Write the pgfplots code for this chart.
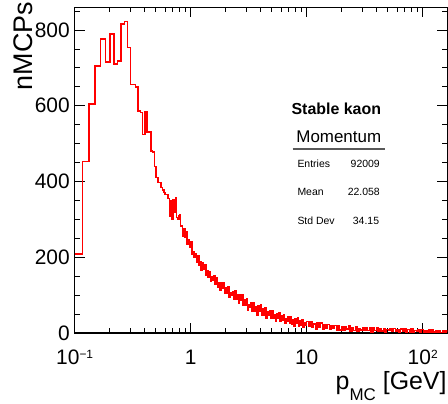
\documentclass[border=0pt]{standalone}
\usepackage{pgfplots}
\pgfplotsset{compat=1.18}
\usepackage{pgfplotstable}
\usepackage{fontspec}
\setmainfont{Liberation Sans}
\definecolor{histred}{RGB}{255,0,0}
\newcommand{\tsup}[1]{\raisebox{6bp}{\fontsize{12}{12}\selectfont #1}}

% low-momentum bins (bin left edge in GeV, entries)
\pgfplotstableread{
x n
0.1000 209
0.1168 453
0.1336 604
0.1504 705
0.1672 776
0.1840 716
0.2008 789
0.2176 710
0.2344 719
0.2512 816
0.2680 822
0.2848 754
0.3016 656
0.3184 656
0.3352 650
0.3520 586
0.3688 582
0.3856 524
0.4024 583
0.4192 530
0.4360 530
0.4528 480
0.4696 478
0.4864 440
0.5032 411
0.5200 397
0.5368 397
0.5536 384
0.5704 378
0.5872 371
0.6040 366
0.6208 366
0.6376 355
0.6544 308
0.6712 348
0.6880 300
0.7048 352
0.7216 320
0.7384 358
0.7552 305
0.7720 300
0.7943 312
}\lowbins

% fine bins at higher momentum (log10 of p, entries)
\pgfplotstableread{
lx n
-0.10 312
-0.09 281
-0.08 284
-0.07 256
-0.06 276
-0.05 253
-0.04 268
-0.03 234
-0.02 247
-0.01 226
0.00 240
0.01 207
0.02 215
0.03 200
0.04 210
0.05 187
0.06 205
0.07 180
0.08 188
0.09 166
0.10 186
0.11 168
0.12 180
0.13 152
0.14 164
0.15 148
0.16 163
0.17 137
0.18 149
0.19 140
0.20 150
0.21 128
0.22 147
0.23 122
0.24 133
0.25 112
0.26 134
0.27 119
0.28 133
0.29 105
0.30 120
0.31 105
0.32 121
0.33 95
0.34 107
0.35 99
0.36 110
0.37 89
0.38 112
0.39 88
0.40 100
0.41 78
0.42 101
0.43 86
0.44 102
0.45 72
0.46 89
0.47 72
0.48 90
0.49 61
0.50 75
0.51 67
0.52 79
0.53 58
0.54 80
0.55 57
0.56 70
0.57 48
0.58 72
0.59 58
0.60 74
0.61 46
0.62 63
0.63 48
0.64 67
0.65 40
0.66 55
0.67 47
0.68 59
0.69 39
0.70 60
0.71 38
0.72 49
0.73 30
0.74 52
0.75 39
0.76 53
0.77 30
0.78 45
0.79 33
0.80 48
0.81 26
0.82 37
0.83 32
0.84 43
0.85 25
0.86 44
0.87 24
0.88 36
0.89 19
0.90 37
0.91 26
0.92 40
0.93 19
0.94 33
0.95 21
0.96 36
0.97 16
0.98 28
0.99 21
1.00 31
1.015 17
1.03 31
1.045 16
1.06 24
1.075 11
1.09 27
1.105 16
1.12 27
1.135 11
1.15 21
1.165 12
1.18 23
1.195 9
1.21 18
1.225 12
1.24 20
1.255 8
1.27 20
1.285 8
1.30 16
1.315 6
1.33 17
1.345 10
1.36 19
1.375 5
1.39 14
1.405 7
1.42 17
1.435 5
1.45 12
1.465 8
1.48 14
1.495 6
1.51 15
1.525 6
1.54 13
1.555 3
1.57 14
1.585 7
1.60 15
1.615 4
1.63 12
1.645 5
1.66 12
1.675 3
1.69 9
1.705 6
1.72 11
1.735 4
1.75 12
1.765 4
1.78 9
1.795 2
1.81 11
1.825 5
1.84 12
1.855 2
1.87 9
1.885 3
1.90 10
1.915 2
1.93 7
1.945 4
1.96 8
1.975 2
1.99 9
2.005 2
2.02 7
2.035 1
2.05 8
2.065 3
2.08 9
2.095 2
2.11 7
2.125 2
2.14 7
2.155 1
2.17 5
2.185 2
2.20 7
2.215 2
}\highbins

\begin{document}
\begin{tikzpicture}
\useasboundingbox (0,0) rectangle (448bp,404bp);
\begin{axis}[
  at={(74.7bp,71bp)}, anchor=south west,
  width=372.6bp, height=325.7bp, scale only axis,
  xmode=log, xmin=0.1, xmax=163,
  ymin=0, ymax=860,
  axis line style={line width=1.1bp, black},
  tick align=inside,
  major tick length=10bp, minor tick length=5bp,
  tick style={black, line width=0.9bp},
  xtick={0.1,1,10,100},
  xticklabels={10\tsup{−1},1,10,10\tsup{2}},
  minor xtick={0.2,0.3,0.4,0.5,0.6,0.7,0.8,0.9,2,3,4,5,6,7,8,9,20,30,40,50,60,70,80,90},
  ytick={0,200,400,600,800},
  minor ytick={50,100,150,250,300,350,450,500,550,650,700,750,850},
  /pgf/number format/assume math mode=true,
  xticklabel style={anchor=base, yshift=-32bp, font=\fontsize{21}{21}\selectfont},
  yticklabel style={xshift=-1.5bp, font=\fontsize{21}{21}\selectfont},
]
\addplot[const plot, draw=histred, line width=1.6bp, mark=none] table[x=x, y=n] {\lowbins};
\addplot[const plot, draw=histred, line width=1.5bp, mark=none] table[x expr={pow(10,\thisrow{lx})}, y=n] {\highbins};
\end{axis}
\node[rotate=90, anchor=base east, inner sep=0, font=\fontsize{27}{27}\selectfont] at (32bp,402.3bp) {nMCPs};
\node[anchor=base east, inner sep=0, font=\fontsize{25}{25}\selectfont] at (446.7bp,15bp) {p\raisebox{-11bp}{\fontsize{17}{17}\selectfont MC} [GeV]};
\node[anchor=base, inner sep=0, font=\bfseries\fontsize{16}{16}\selectfont] at (336.3bp,289bp) {Stable kaon};
\node[anchor=base, inner sep=0, font=\fontsize{17}{17}\selectfont] at (338.8bp,261.3bp) {Momentum};
\draw[line width=1.8bp, black!65] (292.7bp,254.7bp) -- (385bp,254.7bp);
\node[anchor=base west, inner sep=0, font=\fontsize{10.5}{10.5}\selectfont] at (297.3bp,236.7bp) {Entries};
\node[anchor=base east, inner sep=0, font=\fontsize{10.5}{10.5}\selectfont] at (380bp,236.7bp) {92009};
\node[anchor=base west, inner sep=0, font=\fontsize{10.5}{10.5}\selectfont] at (297.3bp,208.7bp) {Mean};
\node[anchor=base east, inner sep=0, font=\fontsize{10.5}{10.5}\selectfont] at (380bp,208.7bp) {22.058};
\node[anchor=base west, inner sep=0, font=\fontsize{10.5}{10.5}\selectfont] at (297.3bp,179.7bp) {Std Dev};
\node[anchor=base east, inner sep=0, font=\fontsize{10.5}{10.5}\selectfont] at (379.3bp,179.7bp) {34.15};
\end{tikzpicture}
\end{document}
